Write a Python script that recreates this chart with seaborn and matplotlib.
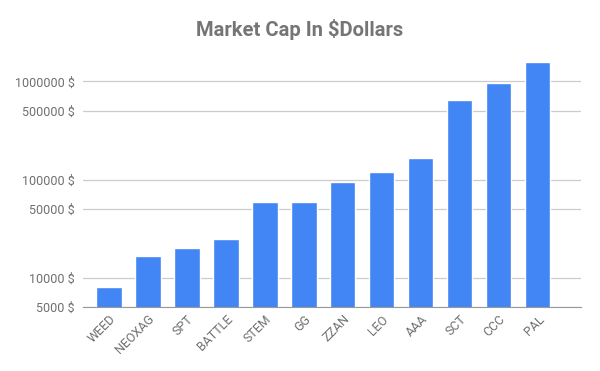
import numpy as np
import pandas as pd
import matplotlib
matplotlib.use("Agg")
import matplotlib.pyplot as plt
import matplotlib.ticker as mticker
import seaborn as sns

# Values
tokens = ["WEED", "NEOXAG", "SPT", "BATTLE", "STEM", "GG",
          "ZZAN", "LEO", "AAA", "SCT", "CCC", "PAL"]
market_cap = [8000, 16500, 20000, 25000, 59000, 58500,
              94000, 119000, 166000, 647000, 970000, 1580000]
y_ticks = [5000, 10000, 50000, 100000, 500000, 1000000]

df = pd.DataFrame({"token": tokens, "cap": market_cap})

sns.set_style("white")
plt.rcParams["font.family"] = ["Roboto", "DejaVu Sans"]

fig = plt.figure(figsize=(6, 3.71), dpi=100)
ax = fig.add_axes([0.138, 0.172, 0.831, 0.688])
ax.set_yscale("log")

sns.barplot(data=df, x="token", y="cap", color="#4285f4", saturation=1,
            width=0.65, ax=ax, zorder=3)

ax.set_ylim(5000, 2.0e6)
ax.set_xlim(-0.67, 12.12)
ax.yaxis.set_major_locator(mticker.FixedLocator(y_ticks))
ax.yaxis.set_minor_locator(mticker.NullLocator())
ax.yaxis.set_major_formatter(mticker.FuncFormatter(lambda v, p: f"{int(v)} $"))

ax.grid(axis="y", color="#cccccc", linewidth=0.9, zorder=0)
for s in ["left", "right", "top"]:
    ax.spines[s].set_visible(False)
ax.spines["bottom"].set_color("#999999")
ax.spines["bottom"].set_zorder(4)

ax.tick_params(axis="y", length=0, labelsize=9, labelcolor="#6f6f6f", pad=6)
ax.tick_params(axis="x", length=0, labelsize=9, labelcolor="#6f6f6f", pad=4)
plt.setp(ax.get_xticklabels(), rotation=45, ha="right", rotation_mode="anchor")

ax.set_xlabel("")
ax.set_ylabel("")
fig.suptitle("Market Cap In $Dollars", x=0.5, y=0.95, fontsize=14.5,
             fontweight="bold", color="#757575")

fig.savefig("out.png", dpi=100)
